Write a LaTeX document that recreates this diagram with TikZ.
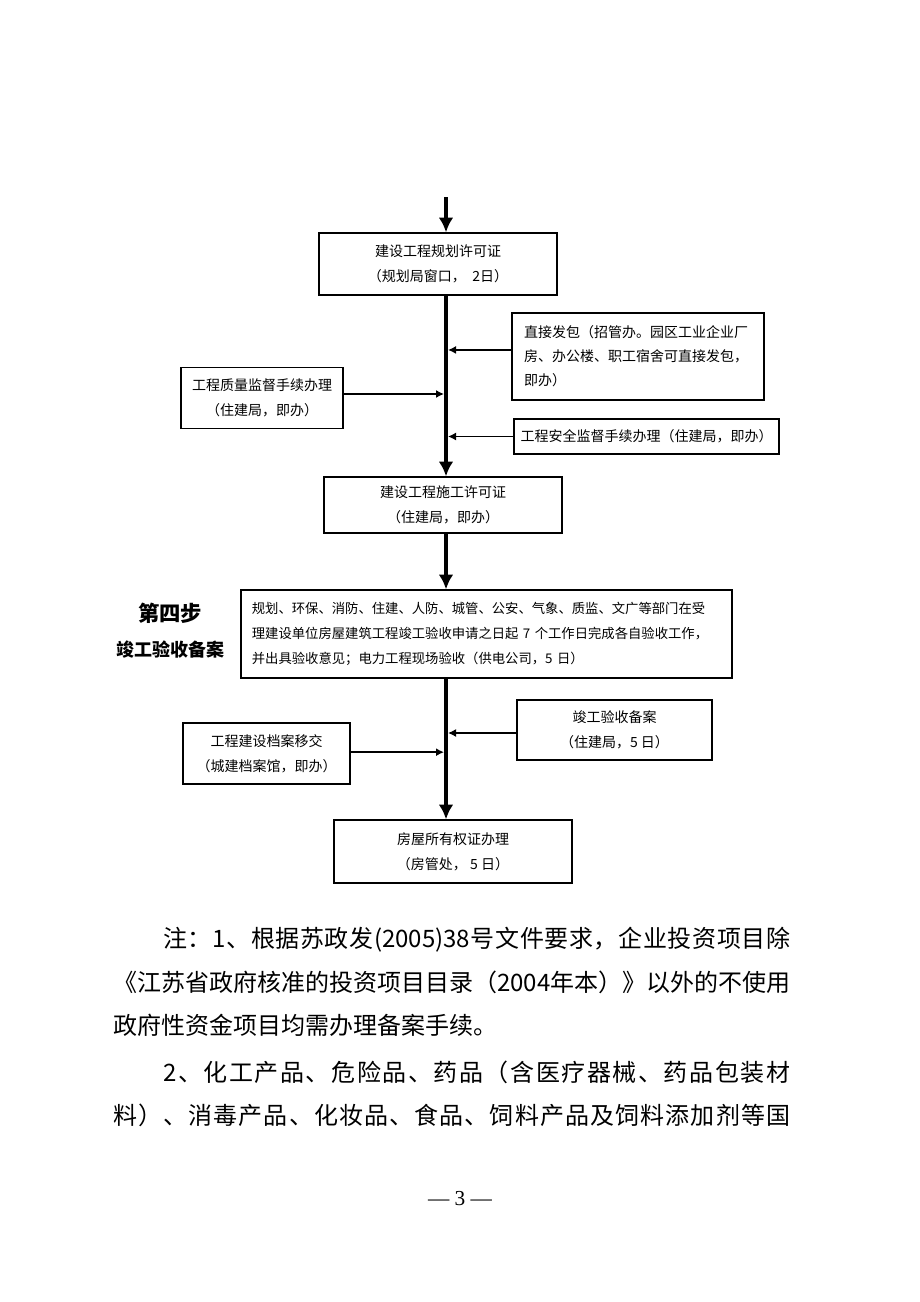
\documentclass[tikz,border=0pt]{standalone}
\usepackage{fontspec}
\setmainfont{Noto Sans CJK SC}
\newfontfamily\pagefont{Liberation Serif}
\usetikzlibrary{arrows.meta}

\ExplSyntaxOn
\NewDocumentCommand \jline { m m }
  {
    \makebox [ \dimexpr #1pt * 3 / 4 \relax ] [s]
      { \tl_map_inline:nn {#2} { ##1 \skip_horizontal:n { 0pt plus 1fil } } \unskip }
  }
\ExplSyntaxOff

\begin{document}
\begin{tikzpicture}[x=0.75pt,y=-0.75pt,
    box/.style={draw,line width=1pt,inner sep=0pt,align=center,
      font=\fontsize{10.5}{18.75}\selectfont},
    mainline/.style={line width=3pt,-{Latex[length=11pt,width=11pt]}},
    sideline/.style={line width=1.1pt,-{Latex[length=6pt,width=6pt]}},
    note/.style={anchor=west,inner sep=0pt,font=\fontsize{18}{18}\selectfont}]
    \useasboundingbox (0,0) rectangle (920,1302);

    \coordinate (top) at (446,197);

    \node[box,minimum width=238*0.75pt,minimum height=62*0.75pt] (plan) at (438,264)
      {建设工程规划许可证\\（规划局窗口，~~2日）};
    \node[box,minimum width=252*0.75pt,minimum height=87*0.75pt,align=left,text width=171pt,
      font=\fontsize{10.5}{18}\selectfont] (bid) at (638,356.5)
      {直接发包（招管办。园区工业企业厂\\房、办公楼、职工宿舍可直接发包，\\即办）};
    \node[box,minimum width=162*0.75pt,minimum height=61*0.75pt] (qual) at (262,398)
      {工程质量监督手续办理\\（住建局，即办）};
    \node[box,minimum width=265*0.75pt,minimum height=35*0.75pt] (safe) at (646.5,436.5)
      {工程安全监督手续办理（住建局，即办）};
    \node[box,minimum width=238*0.75pt,minimum height=56*0.75pt] (perm) at (443,505)
      {建设工程施工许可证\\（住建局，即办）};

    \node[font=\fontsize{16}{16}\selectfont\bfseries] (step) at (170,613) {第四步};
    \node[font=\fontsize{13.5}{13.5}\selectfont\bfseries] (stepname) at (170,650) {竣工验收备案};

    \node[box,minimum width=491*0.75pt,minimum height=88*0.75pt,align=left,text width=352pt,
      font=\fontsize{10}{19}\selectfont] (check) at (486.5,634)
      {规划、环保、消防、住建、人防、城管、公安、气象、质监、文广等部门在受\\
       理建设单位房屋建筑工程竣工验收申请之日起~7~个工作日完成各自验收工作，\\
       并出具验收意见；电力工程现场验收（供电公司，5~日）};
    \node[box,minimum width=195*0.75pt,minimum height=60*0.75pt] (accept) at (614.5,730)
      {竣工验收备案\\（住建局，5~日）};
    \node[box,minimum width=167*0.75pt,minimum height=61*0.75pt] (archive) at (266.5,753.5)
      {工程建设档案移交\\（城建档案馆，即办）};
    \node[box,minimum width=238*0.75pt,minimum height=63*0.75pt] (deed) at (453,851.5)
      {房屋所有权证办理\\（房管处，~5~日）};

    \draw[mainline] (top) -- (top |- plan.north);
    \draw[mainline] (plan.south -| top) -- (perm.north -| top);
    \draw[mainline] (perm.south -| top) -- (check.north -| top);
    \draw[mainline] (check.south -| top) -- (deed.north -| top);

    \draw[sideline] ([yshift=4.9pt]bid.west) -- ([yshift=4.9pt,xshift=1.5pt]bid.west -| top);
    \draw[sideline] ([yshift=3pt]qual.east) -- ([yshift=3pt,xshift=-1.5pt]qual.east -| top);
    \draw[sideline] (safe.west) -- ([xshift=1.5pt]safe.west -| top);
    \draw[sideline] ([yshift=-2.25pt]accept.west) -- ([yshift=-2.25pt,xshift=1.5pt]accept.west -| top);
    \draw[sideline] ([yshift=1pt]archive.east) -- ([yshift=1pt,xshift=-1.5pt]archive.east -| top);

    \node[note] (note1) at (163,940) {\jline{627}{注：1、根据苏政发{(2005)38}号文件要求，企业投资项目除}};
    \node[note] (note2) at (113,982) {\jline{677}{《江苏省政府核准的投资项目目录（{2004}年本）》以外的不使用}};
    \node[note] (note3) at (113,1025) {政府性资金项目均需办理备案手续。};
    \node[note] (note4) at (163,1072) {\jline{627}{2、化工产品、危险品、药品（含医疗器械、药品包装材}};
    \node[note] (note5) at (113,1115) {\jline{677}{料）、消毒产品、化妆品、食品、饲料产品及饲料添加剂等国}};

    \node[font=\pagefont\fontsize{16}{16}\selectfont] (pageno) at (460,1199) {— 3 —};
\end{tikzpicture}
\end{document}
